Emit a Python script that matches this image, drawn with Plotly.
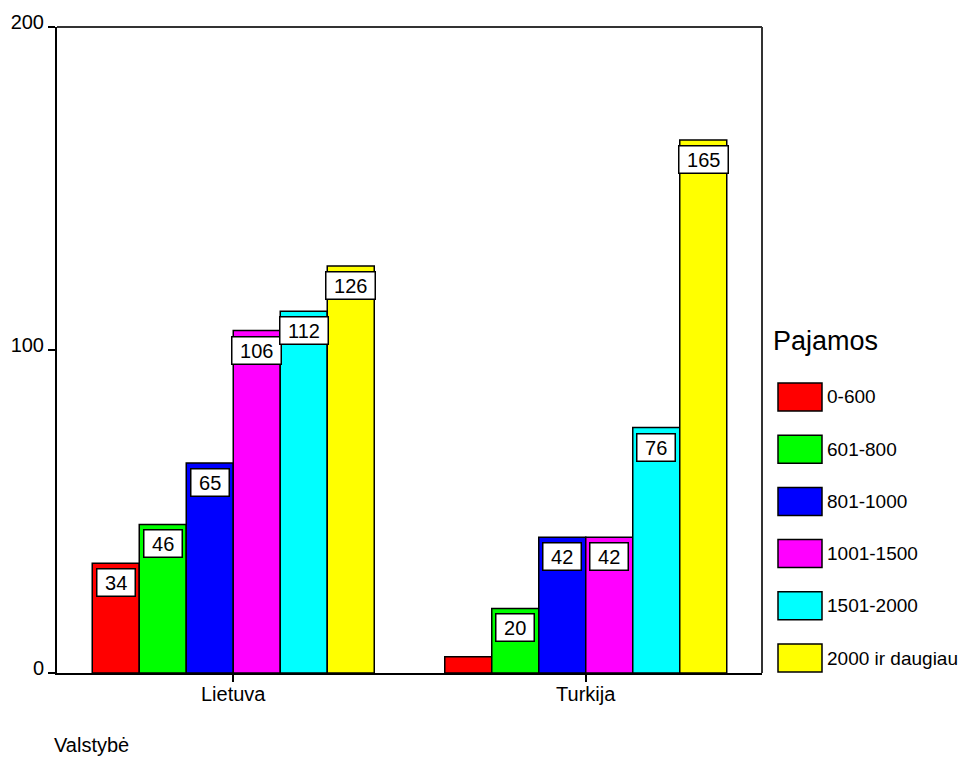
import plotly.graph_objects as go

countries = ["Lietuva", "Turkija"]
income_groups = ["0-600", "601-800", "801-1000", "1001-1500", "1501-2000", "2000 ir daugiau"]
colors = ["#ff0000", "#00ff00", "#0000ff", "#ff00ff", "#00ffff", "#ffff00"]
values = [
    [34, 5],
    [46, 20],
    [65, 42],
    [106, 42],
    [112, 76],
    [126, 165],
]
show_label = [
    [True, False],
    [True, True],
    [True, True],
    [True, True],
    [True, True],
    [True, True],
]
y_ticks = [0, 100, 200]
legend_title = "Pajamos"
x_title = "Valstybė"

FONT = "Arial, Liberation Sans, sans-serif"
fig = go.Figure()
n = len(income_groups)
bargap = 0.2
width = (1 - bargap) / n

for j, (name, col) in enumerate(zip(income_groups, colors)):
    fig.add_trace(go.Bar(
        x=list(range(len(countries))), y=values[j], name=name,
        marker=dict(color=col, line=dict(color="black", width=1.5)),
        showlegend=False,
    ))
    for i, v in enumerate(values[j]):
        if not show_label[j][i]:
            continue
        fig.add_annotation(
            x=i + (j - (n - 1) / 2) * width, y=v, xref="x", yref="y",
            text="\u00a0" + str(v) + "\u00a0", showarrow=False, yanchor="top", yshift=-5,
            font=dict(family=FONT, size=20, color="black"),
            bgcolor="white", bordercolor="black", borderwidth=1.5, borderpad=2,
        )

# page is drawn with an 8px body margin, so the figure is 8px smaller
OFF = 8
L, R, T, B = 57, 762, 27, 673          # target plot area, screen pixels
W, H = 968 - OFF, 760 - OFF

def px(xs):
    return (xs - L) / (R - L)
def py(ys):
    return (B - ys) / (B - T)

fig.add_annotation(x=px(771), y=py(341), xref="paper", yref="paper", text=legend_title,
                   showarrow=False, xanchor="left", yanchor="middle",
                   font=dict(family=FONT, size=27, color="black"))
for j, (name, col) in enumerate(zip(income_groups, colors)):
    yc = 397 + j * 52.2
    fig.add_shape(type="rect", xref="paper", yref="paper",
                  x0=px(778), x1=px(822), y0=py(yc - 14), y1=py(yc + 14),
                  fillcolor=col, line=dict(color="black", width=1.5))
    fig.add_annotation(x=px(825), y=py(yc), xref="paper", yref="paper", text=name,
                       showarrow=False, xanchor="left", yanchor="middle",
                       font=dict(family=FONT, size=19, color="black"))

fig.add_annotation(x=px(52), y=py(745), xref="paper", yref="paper", text=x_title,
                   showarrow=False, xanchor="left", yanchor="middle",
                   font=dict(family=FONT, size=20, color="black"))

# frame top/right
fig.add_shape(type="line", xref="paper", yref="paper", x0=0, x1=1, y0=1, y1=1,
              line=dict(color="#333333", width=2))
fig.add_shape(type="line", xref="paper", yref="paper", x0=1, x1=1, y0=0, y1=1,
              line=dict(color="#333333", width=2))

fig.update_layout(
    width=W, height=H,
    margin=dict(l=L - OFF, r=W - (R - OFF), t=T - OFF, b=H - (B - OFF), autoexpand=False),
    plot_bgcolor="white", paper_bgcolor="white",
    barmode="group", bargap=bargap, bargroupgap=0,
    font=dict(family=FONT, size=20, color="black"),
    xaxis=dict(
        tickmode="array", tickvals=list(range(len(countries))), ticktext=countries,
        range=[-0.5, 1.5], showgrid=False, zeroline=False, automargin=False,
        showline=True, linecolor="black", linewidth=2,
        ticks="outside", ticklen=7, tickwidth=1.5, tickcolor="black",
        tickfont=dict(family=FONT, size=20), ticklabelstandoff=-5,
    ),
    yaxis=dict(
        range=[0, 200], tickvals=y_ticks, showgrid=False, zeroline=False, automargin=False,
        showline=True, linecolor="black", linewidth=2,
        ticks="outside", ticklen=7, tickwidth=1.5, tickcolor="black",
        tickfont=dict(family=FONT, size=20), ticklabelstandoff=0, ticklabelshift=-5,
    ),
)

fig.write_html("out.html")
